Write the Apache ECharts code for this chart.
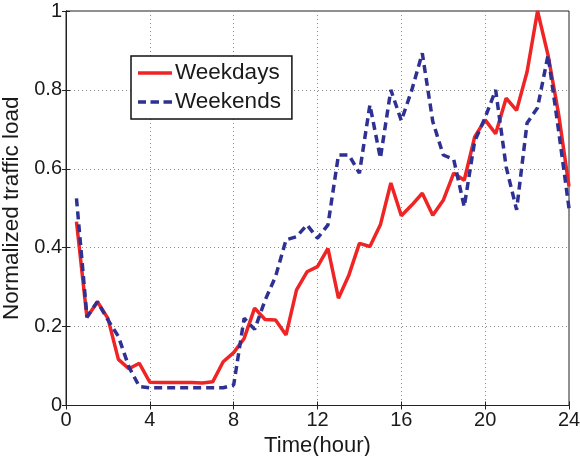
<!DOCTYPE html>
<html>
<head>
<meta charset="utf-8">
<script src="https://cdn.jsdelivr.net/npm/echarts@6/dist/echarts.min.js"></script>
<style>
  html, body { margin: 0; padding: 0; background: #fff; }
  #chart { width: 580px; height: 456px; }
</style>
</head>
<body>
<div id="chart"></div>
<script>
// Sample times (hours), every half hour through the day
const hours = [0.5, 1, 1.5, 2, 2.5, 3, 3.5, 4, 4.5, 5, 5.5, 6, 6.5, 7, 7.5, 8,
  8.5, 9, 9.5, 10, 10.5, 11, 11.5, 12, 12.5, 13, 13.5, 14, 14.5, 15, 15.5, 16,
  16.5, 17, 17.5, 18, 18.5, 19, 19.5, 20, 20.5, 21, 21.5, 22, 22.5, 23, 23.5, 24];

// Normalized traffic load on weekdays
const weekdays = [0.466, 0.223, 0.263, 0.221, 0.117, 0.093, 0.107, 0.059, 0.058, 0.058,
  0.058, 0.058, 0.057, 0.060, 0.111, 0.134, 0.170, 0.247, 0.218, 0.217, 0.179, 0.293,
  0.339, 0.352, 0.398, 0.272, 0.331, 0.411, 0.403, 0.458, 0.564, 0.481, 0.508, 0.538,
  0.482, 0.520, 0.589, 0.571, 0.681, 0.724, 0.689, 0.779, 0.748, 0.846, 1.0, 0.888,
  0.740, 0.555];

// Normalized traffic load on weekends
const weekends = [0.525, 0.225, 0.263, 0.217, 0.175, 0.098, 0.048, 0.045, 0.045, 0.045,
  0.045, 0.045, 0.045, 0.045, 0.045, 0.052, 0.221, 0.193, 0.267, 0.327, 0.420, 0.428,
  0.458, 0.424, 0.458, 0.635, 0.635, 0.589, 0.762, 0.627, 0.800, 0.722, 0.800, 0.893,
  0.720, 0.635, 0.624, 0.504, 0.670, 0.730, 0.800, 0.605, 0.496, 0.716, 0.755, 0.888,
  0.698, 0.500];

const seriesNames = ['Weekdays', 'Weekends'];
const xTicks = { min: 0, max: 24, interval: 4 };
const yTicks = { min: 0, max: 1, interval: 0.2 };

const FONT = '"Liberation Sans", Arial, Helvetica, sans-serif';
const RED = '#ee2524';
const BLUE = '#2e3192';

// Legend glyphs: a solid stroke and a three-dash stroke
const ICON_SOLID = 'path://M0,0H34V3.5H0Z';
const ICON_DASHED = 'path://M0,0H8V3.5H0Z M12.5,0H21V3.5H12.5Z M25.5,0H34V3.5H25.5Z';

const pairs = (ys) => hours.map((h, i) => [h, ys[i]]);

const gridLine = { show: true, lineStyle: { color: '#8a8a8a', type: [1, 3], width: 1 } };
const tickIn = { show: true, inside: true, length: 4, lineStyle: { color: '#222' } };

const chart = echarts.init(document.getElementById('chart'), null, { renderer: 'canvas' });
chart.setOption({
  animation: false,
  backgroundColor: '#fff',
  grid: {
    left: 66, right: 11, top: 11, bottom: 50.5,
    outerBoundsMode: 'none', containLabel: false,
    show: true, borderColor: '#222', borderWidth: 1, backgroundColor: 'transparent'
  },
  legend: {
    data: [
      { name: seriesNames[0], icon: ICON_SOLID },
      { name: seriesNames[1], icon: ICON_DASHED }
    ],
    orient: 'vertical',
    left: 131,
    top: 56,
    padding: [5, 11, 5, 7],
    itemWidth: 34,
    itemHeight: 3.5,
    itemGap: 5,
    borderColor: '#111',
    borderWidth: 1.5,
    backgroundColor: '#fff',
    textStyle: { fontFamily: FONT, fontSize: 22.5, color: '#1a1a1a', lineHeight: 24, padding: [0, 0, 0, -2] }
  },
  xAxis: [{
    type: 'value', min: xTicks.min, max: xTicks.max, interval: xTicks.interval,
    name: 'Time(hour)', nameLocation: 'middle', nameGap: 25,
    nameTextStyle: { fontFamily: FONT, fontSize: 22, color: '#1a1a1a' },
    axisLine: { show: true, lineStyle: { color: '#222' } },
    axisTick: tickIn,
    axisLabel: { fontFamily: FONT, fontSize: 20, color: '#1a1a1a', margin: 5 },
    splitLine: gridLine
  }, {
    type: 'value', position: 'top', min: xTicks.min, max: xTicks.max, interval: xTicks.interval,
    axisLine: { show: true, lineStyle: { color: '#222' } },
    axisTick: tickIn, axisLabel: { show: false }, splitLine: { show: false }
  }],
  yAxis: [{
    type: 'value', min: yTicks.min, max: yTicks.max, interval: yTicks.interval,
    name: 'Normalized traffic load', nameLocation: 'middle', nameGap: 35,
    nameTextStyle: { fontFamily: FONT, fontSize: 22.5, color: '#1a1a1a' },
    axisLine: { show: true, lineStyle: { color: '#222' } },
    axisTick: tickIn,
    axisLabel: { fontFamily: FONT, fontSize: 20, color: '#1a1a1a', margin: 4 },
    splitLine: gridLine
  }, {
    type: 'value', position: 'right', min: yTicks.min, max: yTicks.max, interval: yTicks.interval,
    axisLine: { show: true, lineStyle: { color: '#222' } },
    axisTick: tickIn, axisLabel: { show: false }, splitLine: { show: false }
  }],
  series: [{
    name: seriesNames[0], type: 'line', data: pairs(weekdays),
    symbol: 'none', lineStyle: { color: RED, width: 3.5 }, itemStyle: { color: RED }, z: 3
  }, {
    name: seriesNames[1], type: 'line', data: pairs(weekends),
    symbol: 'none', lineStyle: { color: BLUE, width: 3.5, type: [8, 5] }, itemStyle: { color: BLUE }, z: 4
  }]
});
</script>
</body>
</html>
